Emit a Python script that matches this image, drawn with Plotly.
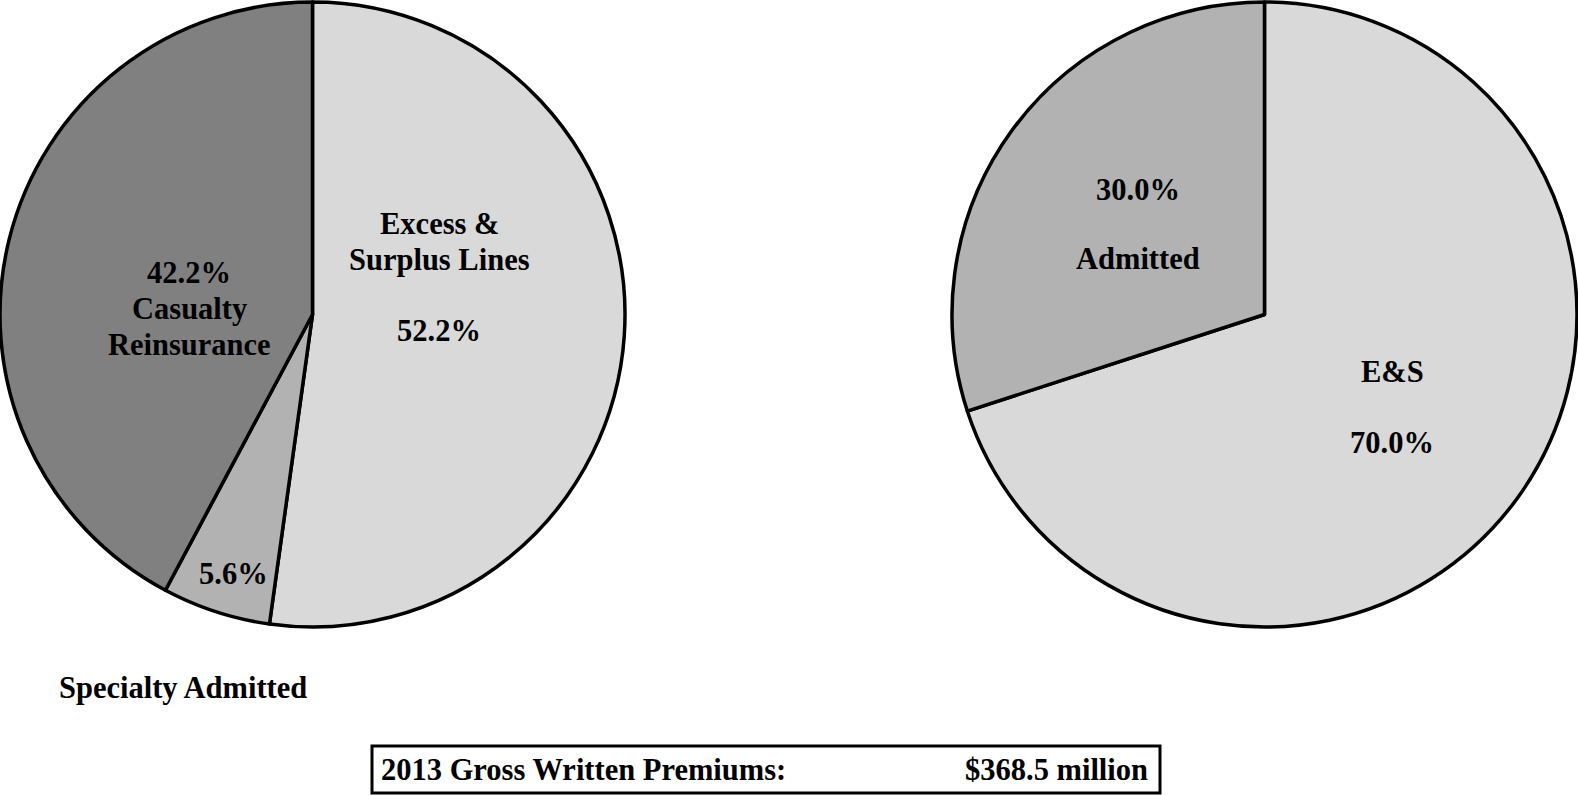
import plotly.graph_objects as go

W, H = 1578, 795

# Data
left_labels = ["Excess & Surplus Lines", "Specialty Admitted", "Casualty Reinsurance"]
left_values = [52.2, 5.6, 42.2]
right_labels = ["E&S", "Admitted"]
right_values = [70.0, 30.0]
gwp_label = "2013 Gross Written Premiums:"
gwp_value = "$368.5 million"

left_colors = ["#d9d9d9", "#b2b2b2", "#808080"]
right_colors = ["#d9d9d9", "#b2b2b2"]

def px(x):
    return x / W

def py(y):
    return 1 - y / H

fig = go.Figure()
fig.add_trace(go.Pie(
    labels=left_labels, values=left_values, sort=False, direction="clockwise",
    rotation=0, textinfo="none", hoverinfo="skip",
    marker=dict(colors=left_colors, line=dict(color="black", width=3.5)),
    domain=dict(x=[px(0), px(625)], y=[py(627), py(2)]),
))
fig.add_trace(go.Pie(
    labels=right_labels, values=right_values, sort=False, direction="clockwise",
    rotation=0, textinfo="none", hoverinfo="skip",
    marker=dict(colors=right_colors, line=dict(color="black", width=3.5)),
    domain=dict(x=[px(952), px(1577)], y=[py(627), py(2)]),
))

font = dict(family="Liberation Serif, Times New Roman, serif", size=30.5, color="black")

def pct(v):
    return f"<b>{v:.1f}%</b>"

def b(t):
    return f"<b>{t}</b>"

ann = [
    (b("Excess &"), 439, 224),
    (b("Surplus Lines"), 439, 260),
    (pct(left_values[0]), 439, 331),
    (pct(left_values[2]), 189, 273),
    (b("Casualty"), 189, 309),
    (b("Reinsurance"), 189, 345),
    (pct(left_values[1]), 233, 574),
    (pct(right_values[1]), 1138, 190),
    (b(right_labels[1]), 1138, 259),
    (b(right_labels[0]), 1392, 372),
    (pct(right_values[0]), 1392, 443),
]
annotations = [
    dict(text=t, x=px(x), y=py(y), xref="paper", yref="paper",
         xanchor="center", yanchor="middle", showarrow=False, font=font)
    for t, x, y in ann
]
annotations.append(dict(text=b(left_labels[1]), x=px(57), y=py(688), xref="paper", yref="paper",
                        xanchor="left", yanchor="middle", showarrow=False, font=font))
annotations.append(dict(text=b(gwp_label), x=px(379), y=py(770), xref="paper", yref="paper",
                        xanchor="left", yanchor="middle", showarrow=False, font=font))
annotations.append(dict(text=b(gwp_value), x=px(1150), y=py(770), xref="paper", yref="paper",
                        xanchor="right", yanchor="middle", showarrow=False, font=font))

fig.update_layout(
    width=W, height=H, margin=dict(l=0, r=0, t=0, b=0),
    paper_bgcolor="white", plot_bgcolor="white", showlegend=False,
    annotations=annotations,
    shapes=[dict(type="rect", xref="paper", yref="paper",
                 x0=px(372), x1=px(1160), y0=py(793), y1=py(746),
                 line=dict(color="black", width=3), fillcolor="rgba(0,0,0,0)")],
)

fig.write_html("out.html")
